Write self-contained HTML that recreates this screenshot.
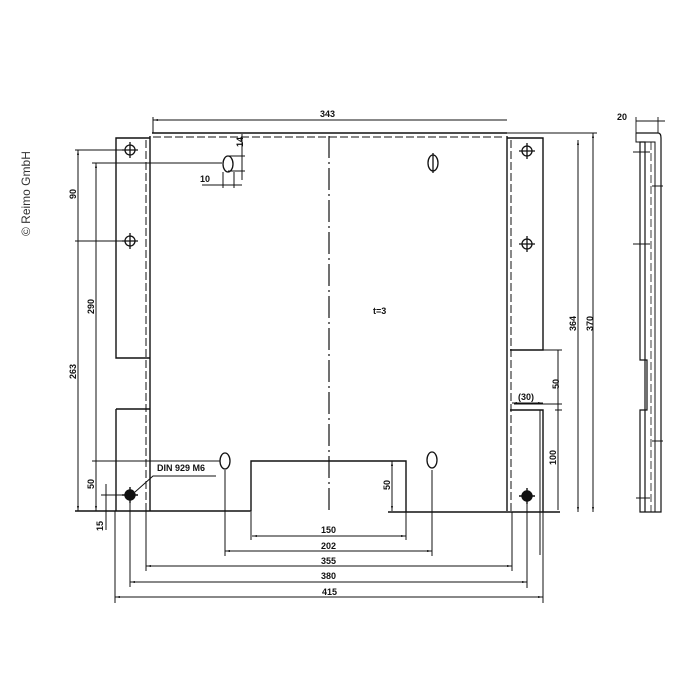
<!DOCTYPE html>
<html><head><style>
body{margin:0;background:#fff;}
svg{display:block;}
text{font-family:"Liberation Sans",sans-serif;font-weight:bold;font-size:9px;fill:#111;}
</style></head><body>
<svg width="700" height="700" viewBox="0 0 700 700" xmlns="http://www.w3.org/2000/svg">
<defs>
<marker id="a" viewBox="0 0 10 10" refX="10" refY="5" markerWidth="5" markerHeight="5" orient="auto-start-reverse"><path d="M0,3L10,5L0,7z" fill="#111"/></marker>
</defs>
<g stroke="#111" fill="none" stroke-width="1.4">
<!-- plate -->
<path d="M150,136 V511 M507,136 V511"/>
<path d="M152,133 H507" />
<path d="M153,137 H505" stroke-dasharray="8,3" stroke-width="1"/>
<path d="M146,140 V511" stroke-dasharray="8,3" stroke-width="1"/>
<path d="M511,140 V511" stroke-dasharray="8,3" stroke-width="1"/>
<!-- flanges -->
<path d="M150,138 H116 V358 H150 M116,409 H150 M116,409 V511"/>
<path d="M507,138 H543 V350 H510 M510,410 H543 V512"/>
<!-- bottom edge -->
<path d="M75,511 H251 V461 H406 V512 M388,512 H560"/>
<path d="M329,136 V510" stroke-dasharray="22,4,2,4" stroke-width="1.2"/>
<!-- holes -->
<g stroke-width="1.3">
<circle cx="130" cy="150" r="5"/><path d="M122,150h16M130,142v16"/>
<circle cx="130" cy="241" r="5"/><path d="M122,241h16M130,233v16"/>
<circle cx="527" cy="151" r="5"/><path d="M519,151h16M527,143v16"/>
<circle cx="527" cy="244" r="5"/><path d="M519,244h16M527,236v16"/>
<ellipse cx="228" cy="164" rx="5" ry="8"/>
<ellipse cx="433" cy="163" rx="5" ry="8"/><path d="M433,153v20"/>
<ellipse cx="225" cy="461" rx="5" ry="8"/>
<ellipse cx="432" cy="460" rx="5" ry="8"/>
</g>
<circle cx="130" cy="495" r="5" fill="#111"/><path d="M122,495h16M130,487v16"/>
<circle cx="527" cy="496" r="5" fill="#111"/><path d="M519,496h16M527,488v16"/>
<!-- top dims -->
<g stroke-width="1">
<path d="M153,117 V133"/>
<path d="M153,120 H507" marker-start="url(#a)"/>
<path d="M242,134 V180 M228,156 H245 M228,171 H245"/>
<path d="M202,185 H242 M223,172 V188 M234,172 V188"/>
<!-- left dims -->
<path d="M75,150 H125 M75,241 H125 M92,163 H222 M92,461 H220 M103,511 H106"/>
<path d="M78,150 V511" marker-start="url(#a)" marker-end="url(#a)"/>
<path d="M78,237 V245"/>
<path d="M96,163 V511" marker-start="url(#a)" marker-end="url(#a)"/>
<path d="M96,457 V465"/>
<path d="M101,495 H128 M106,484 V530"/>
<!-- right dims -->
<path d="M543,350 H562 M514,404 H562 M507,133 H597"/>
<path d="M558,350 V510 M555,410 H562"/>
<path d="M578,140 V512" marker-start="url(#a)" marker-end="url(#a)"/>
<path d="M593,133 V512" marker-start="url(#a)" marker-end="url(#a)"/>
<path d="M512,403 H543" marker-start="url(#a)" marker-end="url(#a)"/>
<path d="M540,410 V555"/>
<!-- bottom dims -->
<path d="M251,512 V540 M406,512 V540 M225,470 V556 M432,470 V556 M146,511 V571 M512,512 V571 M130,503 V587 M527,504 V588 M115,511 V603 M543,512 V603"/>
<path d="M252,536 H406" marker-start="url(#a)" marker-end="url(#a)"/>
<path d="M225,551 H432" marker-start="url(#a)" marker-end="url(#a)"/>
<path d="M146,566 H512" marker-start="url(#a)" marker-end="url(#a)"/>
<path d="M130,582 H527" marker-start="url(#a)" marker-end="url(#a)"/>
<path d="M115,597 H543" marker-start="url(#a)" marker-end="url(#a)"/>
<path d="M392,461 V511" marker-start="url(#a)" marker-end="url(#a)"/>
<!-- DIN leader -->
<path d="M216,476 H153 L135,492"/>
</g>
<!-- side view -->
<g stroke-width="1.2">
<path d="M636,133 H658 Q661,133 661,138 V512 H640 V410 H647 V360 H640 V142 H645 V512"/>
<path d="M636,133 V142 H655 V512" stroke-width="1"/>
<path d="M651,142 V512" stroke-dasharray="8,3" stroke-width="0.8"/>
<path d="M633,152 H650 M652,186 H663 M633,244 H650 M652,441 H663 M636,498 H650 M636,121 H665 M636,117 V133 M658,117 V133" stroke-width="0.9"/>
</g>
</g>
<text x="320" y="117">343</text>
<text x="236" y="146" transform="rotate(-90 240 143)">14</text>
<text x="200" y="182">10</text>
<text x="373" y="314">t=3</text>
<text x="157" y="471" font-size="10">DIN  929  M6</text>
<text x="68" y="199" transform="rotate(-90 72 195)">90</text>
<text x="86" y="314" transform="rotate(-90 90 310)">290</text>
<text x="68" y="379" transform="rotate(-90 72 375)">263</text>
<text x="86" y="489" transform="rotate(-90 90 485)">50</text>
<text x="95" y="531" transform="rotate(-90 99 527)">15</text>
<text x="382" y="490" transform="rotate(-90 386 486)">50</text>
<text x="551" y="389" transform="rotate(-90 555 385)">50</text>
<text x="548" y="465" transform="rotate(-90 552 461)">100</text>
<text x="568" y="331" transform="rotate(-90 572 327)">364</text>
<text x="585" y="331" transform="rotate(-90 589 327)">370</text>
<text x="518" y="400">(30)</text>
<text x="617" y="120">20</text>
<text x="321" y="533">150</text>
<text x="321" y="549">202</text>
<text x="321" y="564">355</text>
<text x="321" y="579">380</text>
<text x="322" y="595">415</text>
<text x="30" y="236" transform="rotate(-90 30 236)" style="font-weight:normal;font-size:12px;fill:#333">© Reimo GmbH</text>
</svg>
</body></html>
